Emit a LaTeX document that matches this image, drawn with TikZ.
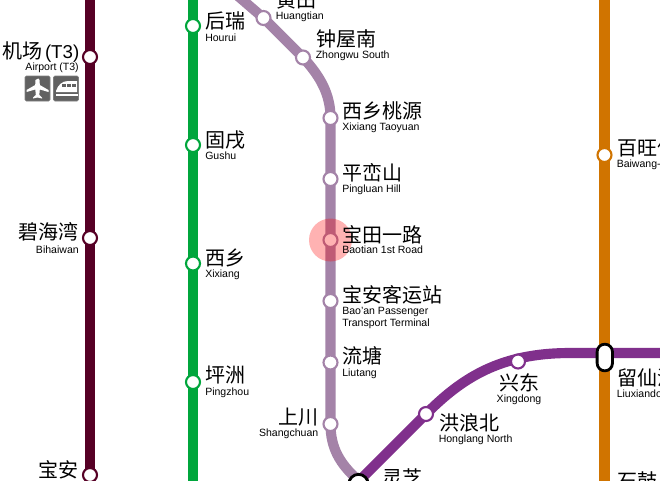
\documentclass[tikz,border=0pt]{standalone}
\usepackage{fontspec}
\setmainfont{Liberation Sans}
\newfontfamily\cjk{Noto Sans CJK SC}
\tikzset{
 x=0.75pt,y=-0.75pt,
 stn/.style={circle,draw=#1,fill=white,line width=1.6pt,minimum size=10.5pt,inner sep=0pt},
 ic/.style={rounded corners=1pt,fill=black!62,draw=black!50,line width=.4pt},
 lblr/.style={anchor=north west,inner sep=0pt,align=left},
 lbll/.style={anchor=north east,inner sep=0pt,align=right},
 lblc/.style={anchor=north,inner sep=0pt,align=center},
 track/.style={line width=7.6pt},
}
\newcommand{\cn}[1]{{\cjk\fontsize{15}{15}\selectfont #1}}
\newcommand{\en}[1]{{\fontsize{7.9}{9.4}\selectfont #1}}
\definecolor{mar}{HTML}{560025}
\definecolor{grn}{HTML}{00A63C}
\definecolor{pur}{HTML}{A483A8}
\definecolor{org}{HTML}{D07400}
\definecolor{vio}{HTML}{80308C}
\begin{document}
\begin{tikzpicture}
\useasboundingbox (0,0) rectangle (660,480);
\clip (0,0) rectangle (660,480);
\fill[white] (0,0) rectangle (660,480);
\coordinate (a1) at (90,-5);\coordinate (a2) at (90,485);
\coordinate (b1) at (193,-5);\coordinate (b2) at (193,485);
\coordinate (d1) at (604.5,-5);\coordinate (d2) at (604.5,485);
\draw[mar,track] (a1)--(a2);
\draw[grn,track] (b1)--(b2);
\draw[org,track] (d1)--(d2);
\draw[pur,track] (238,-4) -- (263.5,18) -- (303,57.5) .. controls (321,77) and (330.5,95) .. (330.5,118) -- (330.5,424) .. controls (330.5,448) and (340,464) .. (358,480);
\draw[vio,track] (350,490) -- (426,414) .. controls (462,378) and (500,353) .. (570,353) -- (665,353);
\node[stn=mar] (s1) at (90,57) {};
\node[stn=mar] (s2) at (90,238) {};
\node[stn=mar] (s3) at (90,475) {};
\node[stn=grn] (g1) at (193,26) {};
\node[stn=grn] (g2) at (193,145) {};
\node[stn=grn] (g3) at (193,263.5) {};
\node[stn=grn] (g4) at (193,382) {};
\node[stn=pur] (p0) at (263.5,18) {};
\node[stn=pur] (p1) at (303,57.5) {};
\node[stn=pur] (p2) at (330.5,118) {};
\node[stn=pur] (p3) at (330.5,179) {};
\node[stn=pur] (p4) at (330.5,240) {};
\node[stn=pur] (p5) at (330.5,301) {};
\node[stn=pur] (p6) at (330.5,362.5) {};
\node[stn=pur] (p7) at (330.5,424) {};
\node[stn=org] (o1) at (604.5,155) {};
\node[stn=vio] (v1) at (426,414) {};
\node[stn=vio] (v2) at (518,361.5) {};
\node[draw=black,fill=white,line width=2.1pt,rounded corners=5.7pt,minimum width=11.5pt,minimum height=20pt,inner sep=0pt] (x1) at (604.8,357.5) {};
\node[circle,draw=black,fill=white,line width=2.1pt,minimum size=14.5pt,inner sep=0pt] (x2) at (358.5,484) {};
\fill[red,opacity=.3] (330.5,240) circle (21.5);
% labels right
\node[lblr] (t1) at (205,11) {\cn{后瑞}};
\node[lblr] (t1e) at (205,33.5) {\en{Hourui}};
\node[lblr] (t2) at (205,130) {\cn{固戌}};
\node[lblr] (t2e) at (205,151.5) {\en{Gushu}};
\node[lblr] (t3) at (205,248) {\cn{西乡}};
\node[lblr] (t3e) at (205,269.5) {\en{Xixiang}};
\node[lblr] (t4) at (205,366) {\cn{坪洲}};
\node[lblr] (t4e) at (205,387.5) {\en{Pingzhou}};
\node[lblr] (p0t) at (276,-10) {\cn{黄田}};
\node[lblr] (p0e) at (275.5,11.5) {\en{Huangtian}};
\node[lblr] (p1t) at (316,29.5) {\cn{钟屋南}};
\node[lblr] (p1e) at (315.5,50.5) {\en{Zhongwu South}};
\node[lblr] (p2t) at (342.5,101) {\cn{西乡桃源}};
\node[lblr] (p2e) at (342,122.5) {\en{Xixiang Taoyuan}};
\node[lblr] (p3t) at (342.5,163) {\cn{平峦山}};
\node[lblr] (p3e) at (342,184.5) {\en{Pingluan Hill}};
\node[lblr] (p4t) at (342.5,225) {\cn{宝田一路}};
\node[lblr] (p4e) at (342,246) {\en{Baotian 1st Road}};
\node[lblr] (p5t) at (342.5,285) {\cn{宝安客运站}};
\node[lblr] (p5e) at (342,306.5) {\en{Bao'an Passenger}};
\node[lblr] (p5f) at (342,318.5) {\en{Transport Terminal}};
\node[lblr] (p6t) at (342.5,346.5) {\cn{流塘}};
\node[lblr] (p6e) at (342,368.5) {\en{Liutang}};
\node[lbll] (p7t) at (319,408) {\cn{上川}};
\node[lbll] (p7e) at (318.5,429) {\en{Shangchuan}};
\node[lblr] (v1t) at (439,413) {\cn{洪浪北}};
\node[lblr] (v1e) at (438.5,434.5) {\en{Honglang North}};
\node[lblc] (v2t) at (519,373) {\cn{兴东}};
\node[lblc] (v2e) at (519,394.5) {\en{Xingdong}};
\node[lblr] (lz) at (382,468) {\cn{灵芝}};
\node[lblr] (o1t) at (617,138) {\cn{百旺信}};
\node[lblr] (o1e) at (616.5,159.5) {\en{Baiwang-xin}};
\node[lblr] (o2t) at (617,368) {\cn{留仙洞}};
\node[lblr] (o2e) at (616.5,389.5) {\en{Liuxiandong}};
\node[lblr] (o3t) at (617,471) {\cn{石鼓}};
\node[lbll] (a1t) at (79.5,41) {\cn{机场}\,{\fontsize{14}{14}\selectfont (T3)}};
\node[lbll] (a1e) at (79,62.5) {\en{Airport (T3)}};
\node[lbll] (a2t) at (78.5,222) {\cn{碧海湾}};
\node[lbll] (a2e) at (79,245.5) {\en{Bihaiwan}};
\node[lbll] (a3t) at (79,460) {\cn{宝安}};
% icons
\draw[ic] (25,76) rectangle (50,101);
\draw[ic] (53.5,76) rectangle (78.5,101);
\fill[white] (38.4,78.5) -- (39.6,80) -- (39.8,85) -- (48.5,90) -- (48.5,92) -- (39.8,89.5) -- (39.3,95) -- (42,97.5) -- (42,98.5) -- (37.5,97.5) -- (33,98.5) -- (33,97.5) -- (35.8,95) -- (35.3,89.5) -- (26.5,92) -- (26.5,90) -- (35.2,85) -- (35.5,80) -- cycle;
\fill[white] (56,91) .. controls (58,85) and (62,81) .. (68,81) -- (77,81) -- (77,92) -- (56,92) -- cycle;
\fill[black!62] (62,84) rectangle (66,87);
\fill[black!62] (67,84) rectangle (71,87);
\fill[black!62] (72,84) rectangle (76,87);
\fill[white] (55.5,94) rectangle (77.5,95.5);
\end{tikzpicture}
\end{document}
